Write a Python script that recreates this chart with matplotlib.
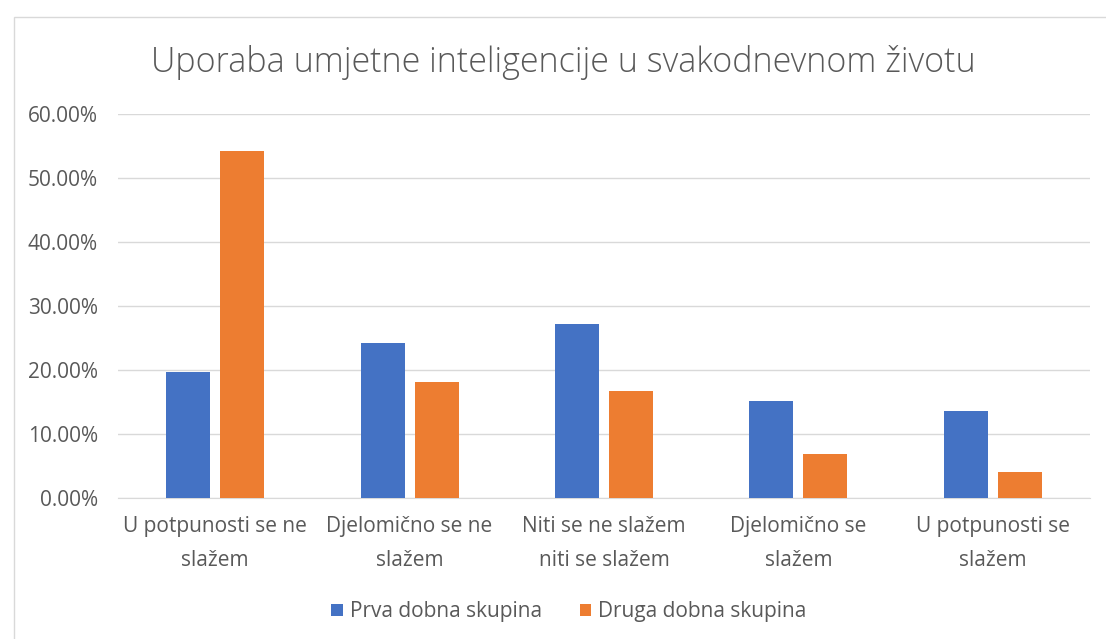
import numpy as np
import matplotlib.pyplot as plt
from matplotlib.patches import Rectangle

# podaci
kategorije = ['U potpunosti se ne\nslažem', 'Djelomično se ne\nslažem',
              'Niti se ne slažem\nniti se slažem', 'Djelomično se\nslažem',
              'U potpunosti se\nslažem']
prva = [0.1965, 0.2420, 0.2723, 0.1508, 0.1355]
druga = [0.5417, 0.1808, 0.1667, 0.0688, 0.0413]
serije = ['Prva dobna skupina', 'Druga dobna skupina']
boje = ['#4472C4', '#ED7D31']
y_ticks = [0, 0.1, 0.2, 0.3, 0.4, 0.5, 0.6]

plt.rcParams['font.family'] = ['Open Sans', 'DejaVu Sans']

fig = plt.figure(figsize=(11.06, 6.39), dpi=100)
fig.patches.append(Rectangle((14/1106, -0.01), 1.1, 1 - 17/639 + 0.01,
                             transform=fig.transFigure, fill=False,
                             edgecolor='#D9D9D9', linewidth=1))
ax = fig.add_axes([118/1106, 1 - 498/639, 972/1106, 384/639])

x = np.arange(len(kategorije))
w = 44/194.4
off = 27/194.4
ax.bar(x - off, prva, w, color=boje[0], label=serije[0], zorder=3)
ax.bar(x + off, druga, w, color=boje[1], label=serije[1], zorder=3)

ax.set_xlim(-0.5, len(kategorije) - 0.5)
ax.set_ylim(0, 0.6)
ax.set_yticks(y_ticks)
ax.set_yticklabels(['{:.2f}%'.format(v*100) for v in y_ticks])
ax.yaxis.grid(True, color='#D9D9D9', linewidth=1, zorder=0)
ax.set_xticks(x)
ax.set_xticklabels(kategorije, linespacing=1.8)
ax.tick_params(axis='both', length=0, labelsize=15, colors='#595959')
ax.tick_params(axis='x', pad=13)
ax.tick_params(axis='y', pad=14.5)
for s in ['top', 'right', 'left']:
    ax.spines[s].set_visible(False)
ax.spines['bottom'].set_color('#D9D9D9')

fig.text(563/1106, 1 - 62/639, 'Uporaba umjetne inteligencije u svakodnevnom životu',
         ha='center', va='center', fontsize=24.5, color='#595959', fontweight='light')

fig.legend(loc='center', bbox_to_anchor=(569/1106, 1 - 612/639), ncol=2,
           frameon=False, fontsize=15, labelcolor='#595959',
           handlelength=0.55, handleheight=0.55, handletextpad=0.35, columnspacing=1.8)

fig.savefig('out.png', dpi=100)
